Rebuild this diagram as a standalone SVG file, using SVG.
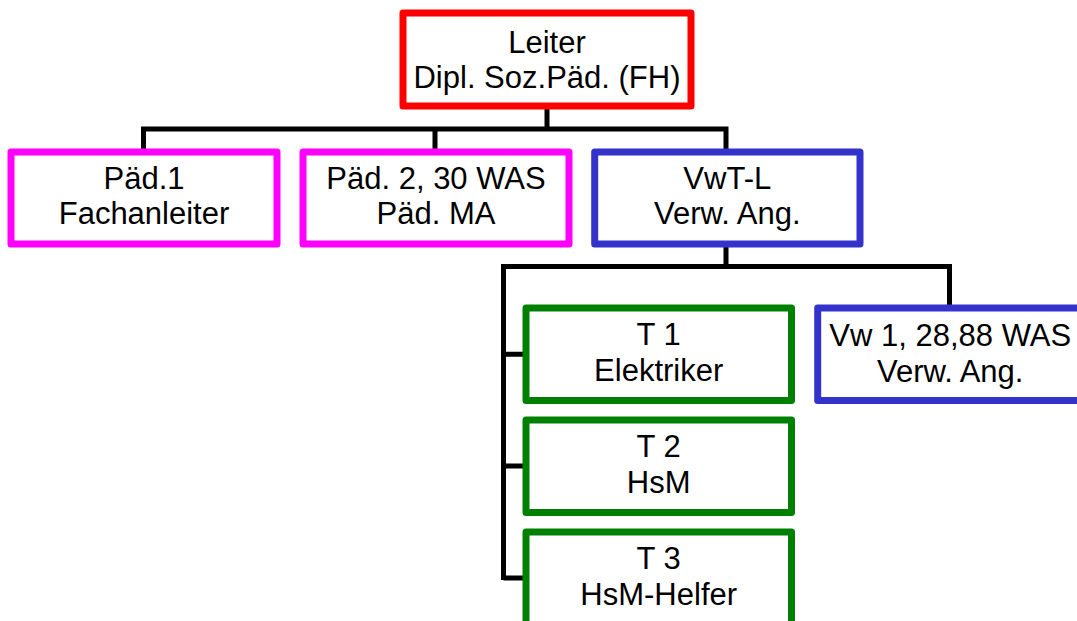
<svg xmlns="http://www.w3.org/2000/svg" width="1077" height="621" viewBox="0 0 1077 621">
<style>
.box{fill:#fff;stroke-width:7;stroke-linejoin:round}
.red{stroke:#ff0000}
.mag{stroke:#ff00ff}
.blue{stroke:#3333cc}
.green{stroke:#008000}
.lbl{font-family:"Liberation Sans",Arial,sans-serif;font-size:31px;fill:#000;text-anchor:middle}
.conn{fill:none;stroke:#000;stroke-width:5;stroke-linejoin:miter;stroke-linecap:butt}
</style>
<rect width="1077" height="621" fill="#fff"/>
<g id="connectors">
<path class="conn" d="M547 106V129M143.5 152V129H726V152M435 129V152"/>
<path class="conn" d="M726 244V266.5M503.5 580V266.5H949.5V308M503.5 354.3H526M503.5 466H526M503.5 578H526"/>
</g>
<g id="leiter">
<rect class="box red" x="403" y="13" width="288" height="93"/>
<text class="lbl" x="547" y="52.5">Leiter</text>
<text class="lbl" x="547" y="87.5">Dipl. Soz.Päd. (FH)</text>
</g>
<g id="paed1">
<rect class="box mag" x="11" y="152" width="266" height="92"/>
<text class="lbl" x="144" y="189">Päd.1</text>
<text class="lbl" x="144" y="223.5">Fachanleiter</text>
</g>
<g id="paed2">
<rect class="box mag" x="303" y="152" width="266" height="92"/>
<text class="lbl" x="436" y="189">Päd. 2, 30 WAS</text>
<text class="lbl" x="436" y="223.5">Päd. MA</text>
</g>
<g id="vwtl">
<rect class="box blue" x="594.7" y="152" width="265.3" height="92"/>
<text class="lbl" x="727.3" y="189">VwT-L</text>
<text class="lbl" x="727.3" y="223.5">Verw. Ang.</text>
</g>
<g id="t1">
<rect class="box green" x="526" y="308" width="265.5" height="92.5"/>
<text class="lbl" x="658.7" y="345">T 1</text>
<text class="lbl" x="658.7" y="380.7">Elektriker</text>
</g>
<g id="t2">
<rect class="box green" x="526" y="420" width="265.5" height="92.5"/>
<text class="lbl" x="658.7" y="457.3">T 2</text>
<text class="lbl" x="658.7" y="493.3">HsM</text>
</g>
<g id="t3">
<rect class="box green" x="526" y="532" width="265.5" height="92.5"/>
<text class="lbl" x="658.7" y="569.3">T 3</text>
<text class="lbl" x="658.7" y="604.5">HsM-Helfer</text>
</g>
<g id="vw1">
<rect class="box blue" x="817.7" y="308" width="265" height="92.5"/>
<text class="lbl" x="950.2" y="345.7">Vw 1, 28,88 WAS</text>
<text class="lbl" x="950.2" y="381.7">Verw. Ang.</text>
</g>
</svg>
